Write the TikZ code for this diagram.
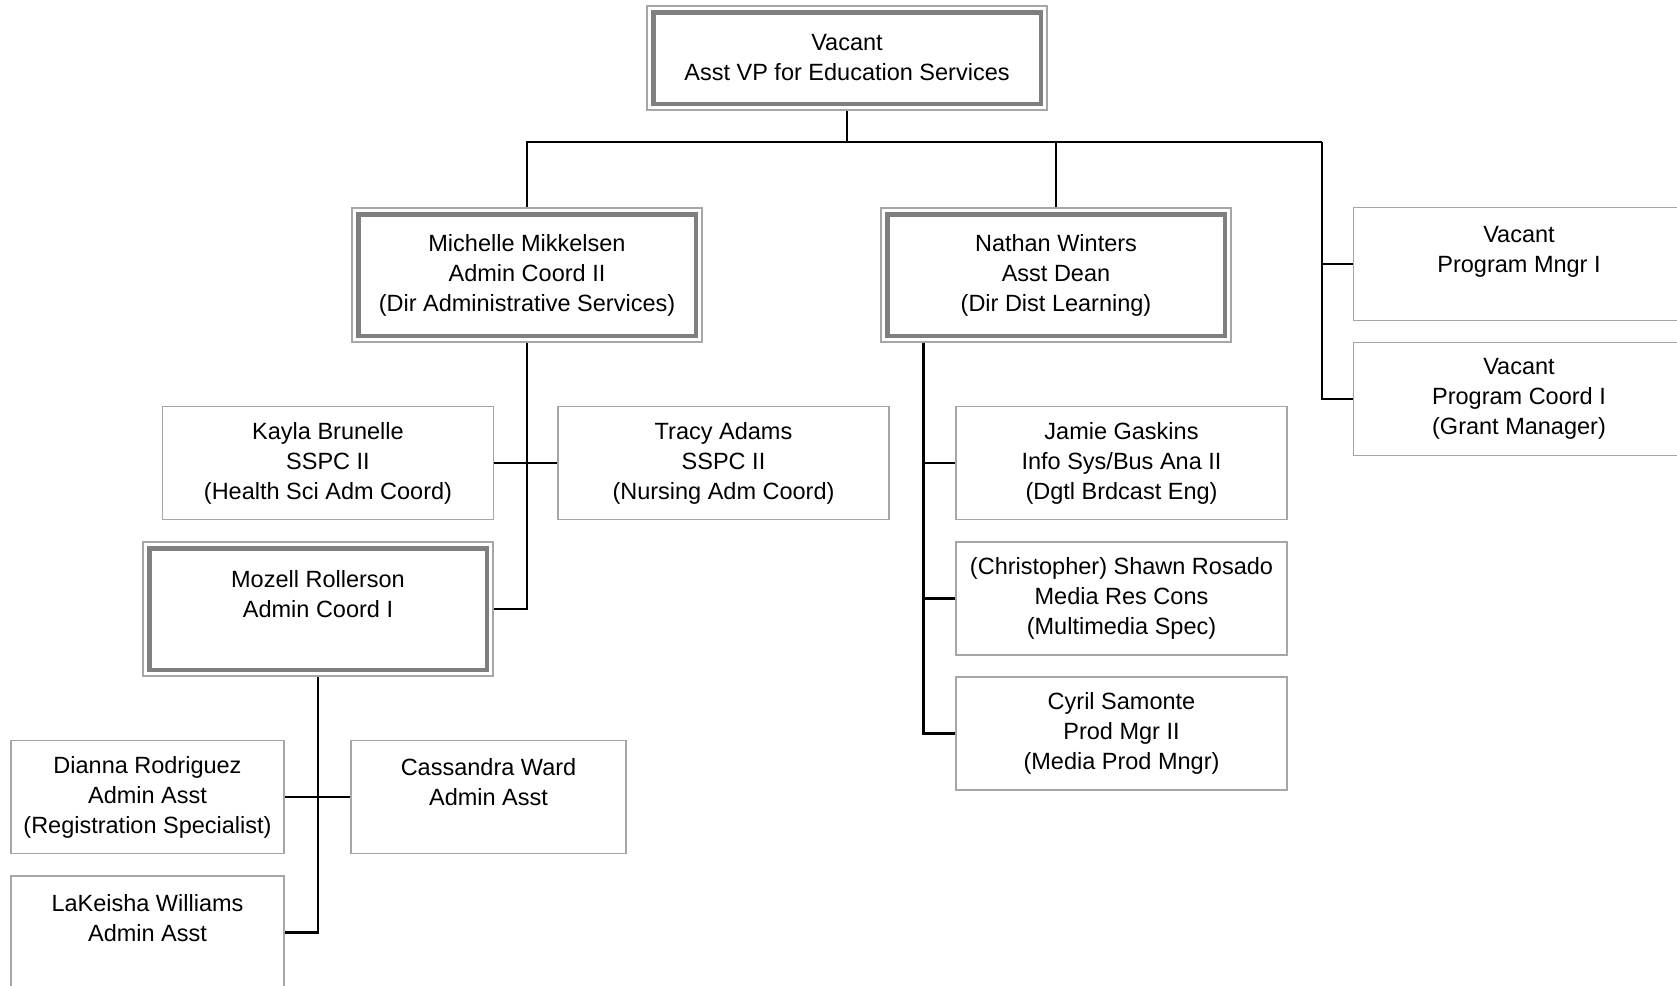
\documentclass[tikz,border=0pt]{standalone}
\usepackage{fontspec}
\setmainfont{Liberation Sans}
\usetikzlibrary{positioning}

\definecolor{framegray}{HTML}{7F7F7F}
\definecolor{edgegray}{HTML}{A6A6A6}
\newcommand{\orgfont}{\fontsize{23.5}{30}\selectfont}
\newcommand{\blankline}{\\ \mbox{}}

\tikzset{
  staffbox/.style={draw=edgegray, line width=1.5pt, align=center,
    minimum width=331pt, minimum height=113pt, inner sep=0pt, font=\orgfont},
  leadbox/.style={draw=edgegray, line width=1.5pt, align=center,
    minimum width=350pt, minimum height=134pt, inner sep=0pt, font=\orgfont},
  leadframe/.style={draw=framegray, line width=4.5pt},
  link/.style={draw=black, line width=2.6pt},
}

\begin{document}
\begin{tikzpicture}[x=1pt,y=-1pt]
\useasboundingbox (0,0) rectangle (1677,985);

%---------------- Top ----------------%
\node[leadbox, minimum width=400pt, minimum height=104pt] (vp) at (847,58)
      {Vacant\\Asst VP for Education Services};

%---------------- Second level ----------------%
\node[leadbox] (mm) at (527,275)
      {Michelle Mikkelsen\\Admin Coord II\\(Dir Administrative Services)};
\node[leadbox] (nw) at (1056,275)
      {Nathan Winters\\Asst Dean\\(Dir Dist Learning)};
\node[staffbox] (pm) at (1519,264) {Vacant\\Program Mngr I\blankline};
\node[staffbox] (pc) at (1519,399) {Vacant\\Program Coord I\\(Grant Manager)};

%---------------- Admin services ----------------%
\node[staffbox] (ky) at (328,463) {Kayla Brunelle\\SSPC II\\(Health Sci Adm Coord)};
\node[staffbox] (tr) at (723.5,463) {Tracy Adams\\SSPC II\\(Nursing Adm Coord)};
\node[leadbox] (mr) at (318,609) {Mozell Rollerson\\Admin Coord I\blankline};

\node[staffbox, minimum width=273pt] (dr) at (147.5,797)
      {Dianna Rodriguez\\Admin Asst\\(Registration Specialist)};
\node[staffbox, minimum width=275pt] (cw) at (488.5,797) {Cassandra Ward\\Admin Asst\blankline};
\node[staffbox, minimum width=273pt] (lk) at (147.5,932.5) {LaKeisha Williams\\Admin Asst\blankline};

%---------------- Dist learning ----------------%
\node[staffbox] (jg) at (1121.5,463) {Jamie Gaskins\\Info Sys/Bus Ana II\\(Dgtl Brdcast Eng)};
\node[staffbox] (cr) at (1121.5,598.5)
      {(Christopher) Shawn Rosado\\Media Res Cons\\(Multimedia Spec)};
\node[staffbox] (cs) at (1121.5,733.5) {Cyril Samonte\\Prod Mgr II\\(Media Prod Mngr)};

%---------------- Inner frames ----------------%
\foreach \n in {vp,mm,nw,mr}
  \draw[leadframe] ([shift={(7,7)}]\n.north west) rectangle ([shift={(-7,-7)}]\n.south east);

%---------------- Connectors ----------------%
\coordinate (busR) at (1322,142);
\draw[link] (vp.south) -- (vp.south |- busR);
\draw[link] (mm.north) |- (busR);
\draw[link] (nw.north) -- (nw.north |- busR);
\draw[link] (busR) |- (pc.west);
\draw[link] (pm.west) -- (pm.west -| busR);

\draw[link] (mm.south) |- (mr.east);
\draw[link] (ky.east) -- (tr.west);

\draw[link] (mr.south) |- (lk.east);
\draw[link] (dr.east) -- (cw.west);

\coordinate (nwtrunk) at ([xshift=43pt]nw.south west);
\draw[link] (nwtrunk) |- (cs.west);
\draw[link] (jg.west) -- (jg.west -| nwtrunk);
\draw[link] (cr.west) -- (cr.west -| nwtrunk);

\end{tikzpicture}
\end{document}
